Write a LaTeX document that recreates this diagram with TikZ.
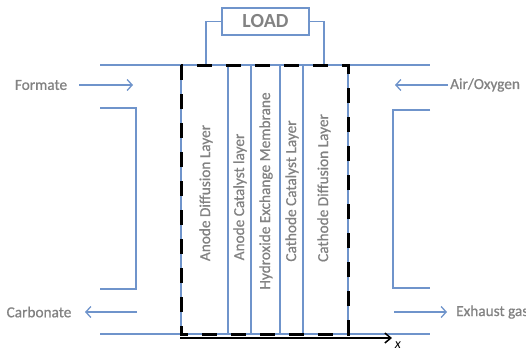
\documentclass[tikz,border=0pt]{standalone}
\usepackage{fontspec}
\setmainfont{Carlito}
\newfontfamily\lblfont[FakeBold=0.8]{Carlito}
\usetikzlibrary{arrows.meta}
\definecolor{wirec}{HTML}{6F94CB}
\definecolor{txtc}{HTML}{828282}
\begin{document}
\begin{tikzpicture}[x=1pt,y=-1pt,
  wire/.style={draw=wirec, line width=1.3pt},
  flow/.style={wire, -{Straight Barb[length=5pt,width=11pt,line width=1.3pt]}},
  lbl/.style={text=txtc, font=\lblfont\fontsize{15.3}{17}\selectfont, inner sep=0pt},
  layer/.style={lbl, rotate=90},
  boundary/.style={draw=black, line width=3pt, dash pattern=on 15pt off 14pt},
  loadbox/.style={draw=wirec, line width=1.6pt, fill=white, minimum width=87pt, minimum height=27pt, text=txtc, font=\bfseries\fontsize{20}{22}\selectfont}]
\useasboundingbox (0,0) rectangle (526,351);
\clip (0,0) rectangle (526,351);
% coordinates
\coordinate (tl) at (100,65);
\coordinate (tr) at (430,65);
\coordinate (bl) at (100,334);
\coordinate (br) at (430,334);
% main lines
\draw[wire] (tl) -- (tr);
\draw[wire] (bl) -- (br);
\foreach \xx in {181,228,251,280,303,348}
  \draw[wire] (\xx,65) -- (\xx,334);
% brackets
\draw[wire] (100,108) -- (136,108) -- (136,289) -- (100,289);
\draw[wire] (430,110) -- (393,110) -- (393,288) -- (430,288);
% load
\node[loadbox] (load) at (265.5,21.5) {LOAD};
\coordinate (wl) at (206,65);
\coordinate (wr) at (324,65);
\draw[wire] (wl) |- (load.west);
\draw[wire] (wr) |- (load.east);
% labels
\node[lbl] (formate) at (41,85) {Formate};
\node[lbl] (carbonate) at (39,312) {Carbonate};
\node[lbl, anchor=west] (air) at (450,85) {Air/Oxygen};
\node[lbl, anchor=west] (exhaust) at (456,312) {Exhaust gas};
% flow arrows
\coordinate (fa1) at (79,85); \coordinate (fa2) at (133,85);
\coordinate (aa1) at (448,85); \coordinate (aa2) at (395,85);
\coordinate (ca1) at (137,312); \coordinate (ca2) at (85,312);
\coordinate (ea1) at (394,312); \coordinate (ea2) at (447,312);
\draw[flow] (fa1) -- (fa2);
\draw[flow] (aa1) -- (aa2);
\draw[flow] (ca1) -- (ca2);
\draw[flow] (ea1) -- (ea2);
% layer labels
\node[layer] (adl) at (206,193) {Anode Diffusion Layer};
\node[layer] (acl) at (240,197) {Anode Catalyst layer};
\node[layer] (hem) at (266,191) {Hydroxide Exchange Membrane};
\node[layer] (ccl) at (292,191) {Cathode Catalyst Layer};
\node[layer] (cdl) at (324,188) {Cathode Diffusion Layer};
% control volume
\draw[boundary] (181,65) rectangle (348,334);
% x axis
\coordinate (x0) at (180,338);
\coordinate (x1) at (392,338);
\draw[line width=1.5pt, -{Straight Barb[length=6pt,width=10pt,line width=1.5pt]}] (x0) -- (x1);
\node[inner sep=0pt, font=\itshape\fontsize{14}{15}\selectfont] (xl) at (398,345) {x};
\end{tikzpicture}
\end{document}
